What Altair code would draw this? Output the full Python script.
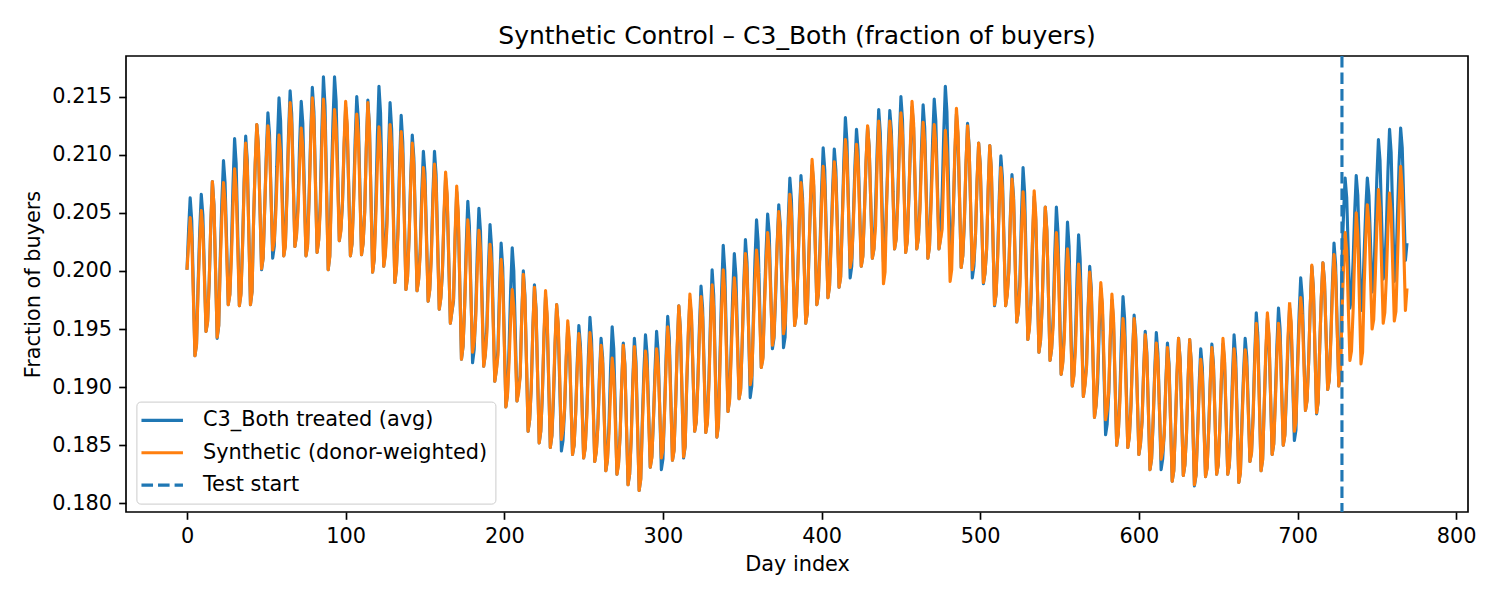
import altair as alt
import pandas as pd

TITLE = "Synthetic Control \u2013 C3_Both (fraction of buyers)"
TREATED_NAME = "C3_Both treated (avg)"
SYNTH_NAME = "Synthetic (donor-weighted)"
TEST_NAME = "Test start"
test_start_day = [728]
x_ticks = [0, 100, 200, 300, 400, 500, 600, 700, 800]
y_ticks = [0.180, 0.185, 0.190, 0.195, 0.200, 0.205, 0.210, 0.215]

# daily values, in units of 1e-4 (one week per line, days 0..769)
treated_e4 = [
    2001, 2035, 2063, 2043, 1985, 1927, 1937,
    1989, 2034, 2066, 2048, 1998, 1948, 1957,
    1990, 2040, 2077, 2057, 2000, 1942, 1953,
    2014, 2061, 2095, 2076, 2024, 1971, 1980,
    2020, 2074, 2114, 2092, 2031, 1970, 1981,
    2022, 2077, 2116, 2095, 2033, 1971, 1982,
    2045, 2092, 2126, 2108, 2054, 2001, 2011,
    2055, 2102, 2136, 2118, 2064, 2011, 2021,
    2061, 2112, 2149, 2129, 2071, 2013, 2023,
    2068, 2118, 2155, 2135, 2078, 2021, 2031,
    2060, 2110, 2146, 2127, 2070, 2013, 2023,
    2066, 2119, 2158, 2137, 2076, 2016, 2027,
    2059, 2121, 2167, 2142, 2072, 2001, 2013,
    2075, 2128, 2167, 2146, 2086, 2026, 2036,
    2058, 2106, 2141, 2122, 2067, 2013, 2023,
    2062, 2113, 2150, 2130, 2072, 2014, 2024,
    2051, 2106, 2147, 2125, 2062, 1999, 2010,
    2058, 2116, 2159, 2136, 2070, 2004, 2016,
    2044, 2102, 2145, 2122, 2056, 1990, 2002,
    2037, 2093, 2134, 2111, 2048, 1984, 1995,
    2030, 2080, 2117, 2097, 2040, 1983, 1993,
    2019, 2068, 2103, 2084, 2029, 1974, 1984,
    2015, 2066, 2103, 2083, 2025, 1967, 1977,
    1999, 2046, 2080, 2062, 2008, 1955, 1965,
    1974, 2028, 2068, 2046, 1985, 1924, 1935,
    1970, 2022, 2060, 2039, 1980, 1921, 1932,
    1966, 2017, 2054, 2034, 1976, 1918, 1928,
    1952, 2003, 2040, 2020, 1962, 1905, 1915,
    1932, 1985, 2024, 2003, 1943, 1883, 1894,
    1934, 1984, 2020, 2000, 1944, 1888, 1898,
    1910, 1962, 2000, 1979, 1921, 1862, 1872,
    1900, 1951, 1988, 1968, 1910, 1852, 1862,
    1893, 1942, 1978, 1959, 1903, 1848, 1858,
    1889, 1936, 1971, 1952, 1899, 1845, 1854,
    1880, 1922, 1952, 1936, 1889, 1842, 1850,
    1879, 1922, 1953, 1936, 1887, 1839, 1848,
    1879, 1926, 1960, 1941, 1889, 1836, 1845,
    1868, 1911, 1942, 1925, 1876, 1828, 1837,
    1869, 1917, 1952, 1933, 1879, 1825, 1835,
    1859, 1904, 1938, 1920, 1868, 1816, 1825,
    1857, 1906, 1942, 1922, 1867, 1811, 1821,
    1871, 1914, 1945, 1928, 1879, 1831, 1840,
    1871, 1915, 1948, 1930, 1880, 1829, 1838,
    1880, 1927, 1961, 1942, 1890, 1837, 1846,
    1885, 1934, 1970, 1950, 1895, 1839, 1849,
    1902, 1944, 1975, 1958, 1910, 1862, 1870,
    1905, 1952, 1987, 1968, 1915, 1861, 1870,
    1907, 1961, 2001, 1979, 1918, 1857, 1868,
    1929, 1983, 2022, 2000, 1940, 1879, 1890,
    1934, 1981, 2015, 1996, 1943, 1890, 1899,
    1939, 1990, 2027, 2007, 1949, 1891, 1901,
    1961, 2009, 2044, 2025, 1971, 1917, 1926,
    1974, 2017, 2049, 2032, 1982, 1933, 1942,
    1977, 2023, 2057, 2039, 1986, 1934, 1943,
    1997, 2045, 2080, 2061, 2007, 1953, 1962,
    1999, 2047, 2082, 2063, 2009, 1955, 1964,
    2013, 2058, 2091, 2073, 2022, 1971, 1980,
    2022, 2070, 2106, 2087, 2032, 1977, 1987,
    2028, 2072, 2105, 2087, 2037, 1986, 1995,
    2042, 2094, 2132, 2111, 2053, 1994, 2004,
    2045, 2090, 2122, 2104, 2054, 2004, 2013,
    2051, 2093, 2124, 2107, 2059, 2011, 2019,
    2054, 2103, 2139, 2119, 2064, 2008, 2018,
    2061, 2106, 2138, 2120, 2070, 2019, 2028,
    2063, 2113, 2150, 2130, 2073, 2016, 2026,
    2062, 2107, 2141, 2123, 2071, 2019, 2028,
    2057, 2107, 2143, 2123, 2067, 2011, 2021,
    2064, 2113, 2148, 2129, 2074, 2019, 2029,
    2065, 2119, 2159, 2137, 2076, 2015, 2026,
    2049, 2099, 2135, 2115, 2059, 2003, 2013,
    2041, 2091, 2127, 2107, 2051, 1994, 2004,
    2031, 2077, 2110, 2092, 2040, 1989, 1998,
    2018, 2070, 2108, 2087, 2029, 1970, 1980,
    2015, 2064, 2099, 2080, 2025, 1970, 1980,
    2000, 2048, 2083, 2064, 2010, 1956, 1965,
    1993, 2048, 2089, 2067, 2004, 1941, 1952,
    1977, 2027, 2064, 2044, 1987, 1930, 1940,
    1969, 2019, 2055, 2035, 1979, 1923, 1933,
    1961, 2015, 2055, 2033, 1972, 1911, 1922,
    1950, 2003, 2042, 2021, 1961, 1901, 1911,
    1941, 1993, 2031, 2010, 1951, 1892, 1903,
    1919, 1968, 2004, 1985, 1929, 1874, 1884,
    1903, 1950, 1985, 1966, 1913, 1859, 1868,
    1894, 1941, 1975, 1956, 1903, 1850, 1860,
    1893, 1942, 1978, 1959, 1903, 1848, 1858,
    1884, 1929, 1962, 1944, 1893, 1842, 1851,
    1871, 1915, 1948, 1930, 1880, 1829, 1838,
    1870, 1915, 1947, 1929, 1879, 1829, 1838,
    1861, 1905, 1938, 1920, 1870, 1819, 1828,
    1865, 1910, 1942, 1924, 1874, 1824, 1833,
    1859, 1906, 1941, 1922, 1869, 1815, 1824,
    1861, 1903, 1933, 1917, 1870, 1823, 1831,
    1864, 1906, 1937, 1920, 1873, 1825, 1833,
    1863, 1905, 1937, 1921, 1872, 1825, 1832,
    1862, 1910, 1945, 1926, 1872, 1818, 1827,
    1873, 1913, 1942, 1926, 1881, 1836, 1844,
    1876, 1927, 1964, 1944, 1886, 1828, 1838,
    1883, 1927, 1959, 1942, 1892, 1842, 1851,
    1891, 1936, 1968, 1950, 1900, 1850, 1859,
    1894, 1937, 1968, 1951, 1902, 1854, 1863,
    1920, 1963, 1994, 1977, 1928, 1880, 1889,
    1921, 1969, 2004, 1985, 1931, 1877, 1887,
    1936, 1977, 2007, 1991, 1944, 1898, 1906,
    1944, 1990, 2024, 2005, 1953, 1901, 1910,
    2007, 2049, 2080, 2063, 2016, 1968, 1976,
    2007, 2050, 2082, 2065, 2015, 1966, 1975,
    2016, 2053, 2080, 2065, 2024, 1982, 1989,
    2035, 2080, 2113, 2095, 2044, 1993, 2002,
    2037, 2086, 2122, 2102, 2047, 1991, 2001,
    2049, 2092, 2123, 2106, 2057, 2009, 2024,
]

synthetic_e4 = [
    2001, 2023, 2046, 2029, 1978, 1927, 1936,
    1984, 2024, 2052, 2036, 1992, 1948, 1956,
    1991, 2041, 2077, 2056, 2001, 1943, 1953,
    2007, 2047, 2076, 2060, 2016, 1971, 1979,
    2011, 2055, 2088, 2070, 2020, 1970, 1979,
    2020, 2073, 2110, 2090, 2030, 1971, 1982,
    2045, 2093, 2126, 2107, 2054, 2002, 2011,
    2056, 2096, 2125, 2110, 2063, 2018, 2026,
    2050, 2089, 2117, 2102, 2057, 2013, 2021,
    2064, 2111, 2145, 2126, 2074, 2021, 2030,
    2052, 2093, 2123, 2107, 2060, 2013, 2021,
    2063, 2112, 2149, 2129, 2072, 2016, 2026,
    2052, 2107, 2148, 2126, 2064, 2001, 2012,
    2065, 2108, 2139, 2122, 2074, 2026, 2034,
    2060, 2110, 2146, 2126, 2069, 2013, 2023,
    2057, 2102, 2135, 2117, 2066, 2014, 2023,
    2050, 2105, 2145, 2123, 2061, 1999, 2010,
    2046, 2091, 2124, 2106, 2055, 2004, 2013,
    2037, 2088, 2126, 2106, 2048, 1990, 2001,
    2032, 2083, 2120, 2099, 2042, 1984, 1994,
    2028, 2075, 2110, 2091, 2037, 1983, 1992,
    2014, 2058, 2089, 2072, 2023, 1974, 1983,
    2011, 2058, 2092, 2074, 2020, 1967, 1976,
    2001, 2050, 2085, 2066, 2010, 1955, 1965,
    1976, 2032, 2073, 2050, 1987, 1924, 1935,
    1970, 2012, 2044, 2026, 1978, 1930, 1939,
    1959, 2003, 2035, 2018, 1968, 1918, 1927,
    1946, 1991, 2023, 2006, 1955, 1905, 1914,
    1927, 1975, 2010, 1991, 1937, 1883, 1893,
    1921, 1958, 1984, 1969, 1929, 1888, 1895,
    1909, 1960, 1997, 1976, 1920, 1862, 1872,
    1899, 1950, 1986, 1966, 1909, 1852, 1862,
    1895, 1946, 1983, 1963, 1905, 1848, 1858,
    1896, 1939, 1971, 1954, 1905, 1855, 1863,
    1882, 1926, 1957, 1940, 1891, 1842, 1850,
    1877, 1917, 1946, 1930, 1884, 1839, 1847,
    1874, 1917, 1947, 1930, 1883, 1836, 1844,
    1866, 1907, 1936, 1920, 1873, 1828, 1837,
    1860, 1897, 1925, 1910, 1868, 1825, 1833,
    1858, 1903, 1936, 1918, 1867, 1816, 1825,
    1855, 1901, 1935, 1916, 1864, 1811, 1820,
    1866, 1904, 1931, 1916, 1873, 1831, 1839,
    1873, 1907, 1933, 1919, 1880, 1839, 1846,
    1877, 1920, 1952, 1934, 1886, 1837, 1845,
    1886, 1935, 1970, 1949, 1896, 1840, 1849,
    1904, 1948, 1980, 1962, 1912, 1862, 1870,
    1902, 1945, 1978, 1960, 1911, 1861, 1869,
    1902, 1952, 1988, 1968, 1912, 1857, 1867,
    1922, 1968, 2001, 1982, 1931, 1879, 1888,
    1927, 1966, 1994, 1978, 1934, 1890, 1897,
    1942, 1984, 2015, 1999, 1950, 1902, 1910,
    1952, 1990, 2018, 2003, 1960, 1917, 1924,
    1970, 2006, 2033, 2018, 1977, 1936, 1944,
    1983, 2022, 2051, 2036, 1990, 1946, 1954,
    1992, 2035, 2066, 2049, 2001, 1953, 1961,
    1997, 2043, 2076, 2058, 2006, 1955, 1964,
    2015, 2062, 2096, 2077, 2024, 1971, 1980,
    2016, 2058, 2090, 2073, 2025, 1977, 1986,
    2024, 2064, 2094, 2078, 2032, 1986, 1994,
    2041, 2082, 2113, 2096, 2050, 2003, 2011,
    2040, 2081, 2109, 2093, 2048, 2004, 2012,
    2051, 2094, 2125, 2106, 2059, 2011, 2019,
    2038, 2091, 2129, 2107, 2049, 1989, 1999,
    2058, 2099, 2129, 2112, 2066, 2019, 2027,
    2058, 2103, 2136, 2118, 2067, 2016, 2025,
    2064, 2111, 2146, 2127, 2073, 2019, 2028,
    2052, 2096, 2128, 2110, 2061, 2011, 2020,
    2056, 2097, 2126, 2110, 2065, 2019, 2027,
    2036, 2084, 2121, 2101, 2046, 1991, 2001,
    2051, 2103, 2140, 2119, 2061, 2003, 2013,
    2045, 2092, 2125, 2106, 2054, 2001, 2010,
    2031, 2078, 2110, 2091, 2041, 1990, 1998,
    2019, 2070, 2108, 2088, 2029, 1971, 1980,
    2011, 2057, 2089, 2071, 2021, 1970, 1979,
    1999, 2045, 2079, 2061, 2008, 1956, 1965,
    1986, 2033, 2068, 2049, 1995, 1941, 1950,
    1979, 2031, 2069, 2048, 1989, 1930, 1940,
    1969, 2020, 2055, 2034, 1980, 1923, 1933,
    1953, 1999, 2033, 2014, 1963, 1911, 1920,
    1942, 1986, 2019, 2001, 1951, 1901, 1909,
    1932, 1975, 2006, 1989, 1940, 1892, 1901,
    1917, 1964, 1999, 1981, 1927, 1874, 1884,
    1913, 1958, 1990, 1972, 1922, 1872, 1880,
    1896, 1945, 1980, 1960, 1905, 1850, 1860,
    1886, 1928, 1959, 1943, 1895, 1848, 1857,
    1883, 1927, 1959, 1941, 1892, 1842, 1851,
    1870, 1913, 1945, 1927, 1879, 1829, 1838,
    1873, 1910, 1938, 1922, 1880, 1838, 1845,
    1860, 1902, 1934, 1917, 1868, 1819, 1828,
    1865, 1911, 1942, 1923, 1875, 1824, 1833,
    1860, 1906, 1941, 1921, 1869, 1816, 1824,
    1858, 1896, 1924, 1909, 1866, 1823, 1830,
    1863, 1904, 1934, 1917, 1872, 1825, 1833,
    1866, 1910, 1942, 1924, 1875, 1825, 1833,
    1858, 1901, 1933, 1916, 1867, 1818, 1826,
    1869, 1906, 1932, 1917, 1877, 1836, 1843,
    1873, 1920, 1955, 1936, 1882, 1828, 1837,
    1885, 1931, 1964, 1946, 1894, 1842, 1851,
    1886, 1927, 1955, 1939, 1894, 1850, 1858,
    1901, 1943, 1973, 1956, 1909, 1862, 1870,
    1914, 1951, 1977, 1963, 1921, 1880, 1888,
    1922, 1969, 2005, 1984, 1931, 1878, 1887,
    1936, 1978, 2007, 1990, 1944, 1898, 1906,
    1940, 1983, 2014, 1996, 1949, 1901, 1909,
    1961, 2003, 2033, 2017, 1970, 1923, 1931,
    1965, 2014, 2050, 2031, 1975, 1920, 1930,
    1987, 2028, 2057, 2041, 1995, 1950, 1958,
    1995, 2038, 2070, 2053, 2004, 1955, 1964,
    1995, 2037, 2067, 2051, 2004, 1957, 1965,
    2009, 2056, 2090, 2071, 2019, 1966, 1985,
]

days = list(range(len(treated_e4)))
df = pd.DataFrame({
    "day": days + days,
    "value": [v / 10000 for v in treated_e4] + [v / 10000 for v in synthetic_e4],
    "series": [TREATED_NAME] * len(days) + [SYNTH_NAME] * len(days),
})
rule_df = pd.DataFrame({"day": test_start_day, "series": [TEST_NAME]})

domain = [TREATED_NAME, SYNTH_NAME, TEST_NAME]
color_scale = alt.Scale(domain=domain, range=["#1f77b4", "#ff7f0e", "#1f77b4"])
dash_scale = alt.Scale(domain=domain, range=[[1, 0], [1, 0], [11.56, 5.0]])

FONT = "DejaVu Sans"
legend = alt.Legend(
    title=None, orient="none", legendX=10.4, legendY=345.6,
    symbolType="M-4.15,0H4.15", symbolStrokeWidth=3.125,
    symbolOffset=7.1, labelOffset=30.3, labelFontSize=20.83, labelFont=FONT,
    labelColor="black", labelLimit=600, rowPadding=10.4, padding=8.3,
    fillColor="rgba(255,255,255,0.8)", strokeColor="#cccccc", cornerRadius=4,
)

x_enc = alt.X("day:Q",
              scale=alt.Scale(domain=[-38.45, 807.45], nice=False, zero=False),
              axis=alt.Axis(values=x_ticks, format="d", title="Day index"))
y_enc = alt.Y("value:Q",
              scale=alt.Scale(domain=[0.17925, 0.2185], nice=False, zero=False),
              axis=alt.Axis(values=y_ticks, format=".3f", title="Fraction of buyers"))

lines = alt.Chart(df).mark_line(strokeWidth=3.125, strokeJoin="round").encode(
    x=x_enc,
    y=y_enc,
    color=alt.Color("series:N", scale=color_scale, legend=legend),
    strokeDash=alt.StrokeDash("series:N", scale=dash_scale, legend=legend),
    order=alt.Order("day:Q"),
)

rule = alt.Chart(rule_df).mark_rule(strokeWidth=3.125).encode(
    x=alt.X("day:Q"),
    color=alt.Color("series:N", scale=color_scale, legend=legend),
    strokeDash=alt.StrokeDash("series:N", scale=dash_scale, legend=legend),
)

chart = alt.layer(lines, rule).properties(
    width=1342, height=456,
    title=alt.TitleParams(TITLE, font=FONT, fontSize=25, fontWeight="normal",
                          color="black", anchor="middle", frame="group",
                          offset=12.5, baseline="alphabetic", dy=27),
    autosize=alt.AutoSizeParams(type="none"),
    padding={"left": 118, "top": 48, "right": 24, "bottom": 80},
).configure_axis(
    grid=False, domain=False, tickColor="black", tickWidth=1.67, tickSize=7.3,
    labelPadding=7.3, labelFont=FONT, labelFontSize=20.83, labelColor="black",
    labelFlush=False, titleFont=FONT, titleFontSize=20.83, titleFontWeight="normal",
    titleColor="black",
).configure_axisX(titlePadding=8.5).configure_axisY(titlePadding=8.3).configure_view(
    stroke="black", strokeWidth=1.67
).configure_legend(symbolSize=100)

chart.save("out.html", embed_options={"renderer": "svg", "actions": False})
